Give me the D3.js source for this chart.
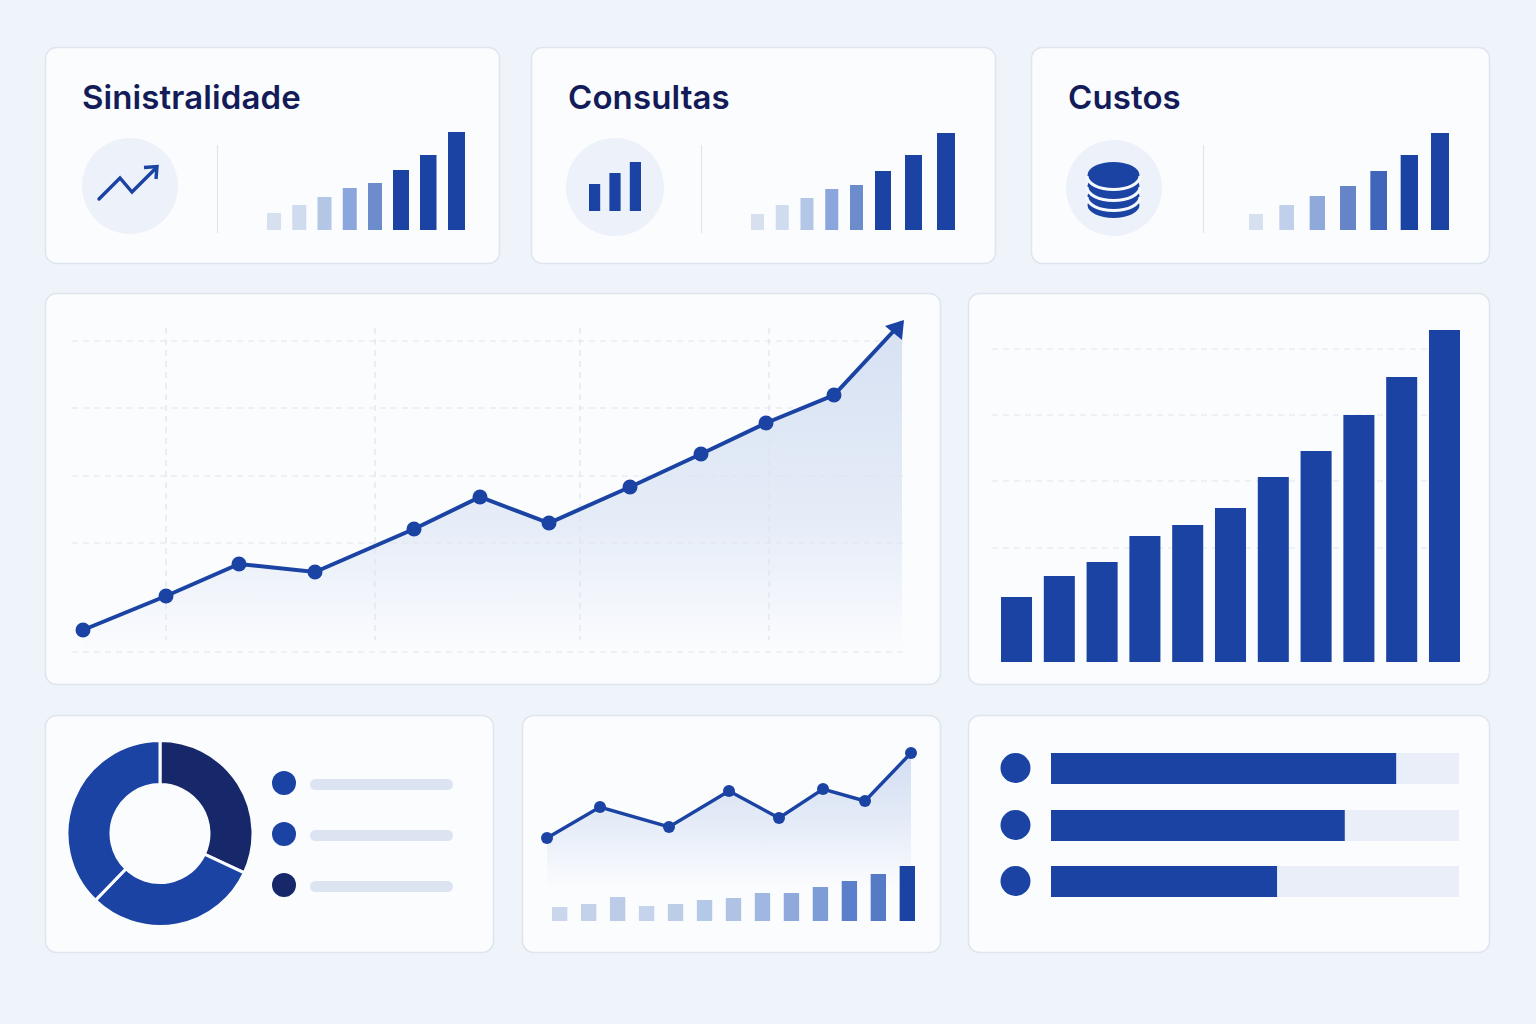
<!DOCTYPE html>
<html><head><meta charset="utf-8">
<script src="https://cdn.jsdelivr.net/npm/d3@7"></script>
<style>html,body{margin:0;padding:0;background:#eff3fa}svg{display:block}</style>
</head><body><svg id="c" width="1536" height="1024"></svg>
<script>
// ---- data ----
const kpiTitles = ["Sinistralidade", "Consultas", "Custos"];
const kpiBars1 = [17, 25, 33, 42, 47, 60, 75, 98];
const kpiBars2 = [16, 25, 32, 41, 45, 59, 75, 97];
const kpiBars3 = [16, 25, 34, 44, 59, 75, 97];
const iconBars = [27, 38, 49];
const lineX = [0, 83, 156, 232, 331, 397, 466, 547, 618, 683, 751, 819];
const lineY = [22, 56, 88, 80, 123, 155, 129, 165, 198, 229, 257, 330];
const columnValues = [65, 86, 100, 126, 137, 154, 185, 211, 247, 285, 332];
const donutValues = [115, 109, 136];
const miniX = [0, 53, 122, 182, 232, 276, 318, 364];
const miniY = [52, 83, 63, 99, 72, 101, 89, 137];
const miniBars = [14, 17, 24, 15, 17, 21, 23, 28, 28, 34, 40, 47, 55];
const progressValues = [84.6, 72, 55.4];

// ---- style ----
const BLUE = "#1a43a3", NAVY = "#16286a", INK = "#131c58";
const fadeColors8 = ["#d6e0ef", "#cfdbef", "#b3c6e6", "#8ba6dc", "#6c8ccc", BLUE, BLUE, BLUE];
const fadeColors7 = ["#d6e0ef", "#c0d0ea", "#8fa9db", "#6585c8", "#3f66ba", BLUE, BLUE];
const miniColors = ["#c9d6ec","#c3d1eb","#bccbe7","#c5d3ec","#bccde8","#b4c8e8","#b0c3e4","#a0b7e1","#8fa9dc","#7e9cd6","#5a7fcb","#557bc7",BLUE];

const svg = d3.select("#c");
const defs = svg.append("defs");
function grad(id, y1, y2, stops){
  const g = defs.append("linearGradient").attr("id",id).attr("gradientUnits","userSpaceOnUse")
    .attr("x1",0).attr("x2",0).attr("y1",y1).attr("y2",y2);
  stops.forEach(s=>g.append("stop").attr("offset",s[0]).attr("stop-color",s[1]));
}
grad("areaMain",340,652,[[0,"#d8e2f3"],[.6,"#e6edf8"],[1,"#fbfcfe"]]);
grad("areaMini",753,888,[[0,"#d3ddf2"],[.55,"#e6edf8"],[1,"#fbfcfe"]]);

// ---- cards ----
const cards = [[45,47,455,217],[531,47,465,217],[1031,47,459,217],
  [45,293,896,392],[968,293,522,392],[45,715,449,238],[522,715,419,238],[968,715,522,238]];
svg.append("g").selectAll("rect").data(cards).join("rect")
  .attr("x",d=>d[0]+.5).attr("y",d=>d[1]+.5).attr("width",d=>d[2]-1).attr("height",d=>d[3]-1)
  .attr("rx",11).attr("fill","#fbfcfe").attr("stroke","#dfe5ef").attr("stroke-width",1.5);

// ---- KPI cards ----
const titleX = [82,568,1068];
svg.append("g").selectAll("text").data(kpiTitles).join("text")
  .attr("x",(d,i)=>titleX[i]).attr("y",109).text(d=>d)
  .attr("font-family","Inter, 'Noto Sans', sans-serif").attr("font-weight",600)
  .attr("font-size",33).attr("letter-spacing",0.1).attr("fill",INK);

const kpiLayout = [
 {vals:kpiBars1,colors:fadeColors8,knots:[0,4,5,6,7],lefts:[267,368,393,420,448],wKnots:[0,4,5,7],widths:[14,14,16,17],cx:130,cy:186,r:48,div:217},
 {vals:kpiBars2,colors:fadeColors8,knots:[0,4,5,6,7],lefts:[751,850,875,905,937],wKnots:[0,4,5,7],widths:[13,13,16,18],cx:615,cy:187,r:49,div:701},
 {vals:kpiBars3,colors:fadeColors7,knots:[0,6],lefts:[1249,1431],wKnots:[0,6],widths:[14,18],cx:1114,cy:188,r:48,div:1203}];
kpiLayout.forEach(k=>{
  svg.append("circle").attr("cx",k.cx).attr("cy",k.cy).attr("r",k.r).attr("fill","#edf1f9");
  svg.append("line").attr("x1",k.div+.5).attr("x2",k.div+.5).attr("y1",145).attr("y2",233)
    .attr("stroke","#e0e4ec").attr("stroke-width",1.2);
  const x = d3.scaleLinear().domain(k.knots).range(k.lefts);
  const w = d3.scaleLinear().domain(k.wKnots).range(k.widths);
  const y = d3.scaleLinear().domain([0,100]).range([230,130]);
  svg.append("g").selectAll("rect").data(k.vals).join("rect")
    .attr("x",(d,i)=>x(i)).attr("width",(d,i)=>w(i)).attr("y",d=>y(d)).attr("height",d=>230-y(d))
    .attr("fill",(d,i)=>k.colors[i]);
});

// icon 1 : trend arrow
svg.append("path").attr("d",d3.line()([[99,199],[120,178],[132,192],[155,169]]))
  .attr("fill","none").attr("stroke",BLUE).attr("stroke-width",3.4).attr("stroke-linecap","round");
svg.append("path").attr("d",d3.line()([[144,167.5],[157,166.5],[156,179]]))
  .attr("fill","none").attr("stroke",BLUE).attr("stroke-width",3.4);
// icon 2 : bars
const ix = d3.scaleBand().domain(d3.range(3)).range([589,640]).paddingInner(.5);
svg.append("g").selectAll("rect").data(iconBars).join("rect")
  .attr("x",(d,i)=>ix(i)).attr("width",ix.bandwidth()+1).attr("y",d=>211-d).attr("height",d=>d).attr("fill",BLUE);
// icon 3 : database
[205,196,186,175].forEach(cy=>{
  svg.append("ellipse").attr("cx",1113.5).attr("cy",cy).attr("rx",26).attr("ry",13).attr("fill",BLUE);
});
[176,187,197].forEach(sy=>{
  svg.append("path").attr("d",`M1087 ${sy} A26.5 13.5 0 0 0 1140 ${sy}`)
    .attr("fill","none").attr("stroke","#f5f8fd").attr("stroke-width",3);
});

// ---- main line chart ----
const mx = d3.scaleLinear().domain([0,819]).range([83,902]);
const my = d3.scaleLinear().domain([0,332]).range([652,320]);
const dash = {stroke:"#dfe3ec","stroke-width":1.2,"stroke-dasharray":"6 5"};
function ln(g,x1,y1,x2,y2){const l=g.append("line").attr("x1",x1).attr("y1",y1).attr("x2",x2).attr("y2",y2);
  Object.entries(dash).forEach(([k,v])=>l.attr(k,v));}
const gMain = svg.append("g");
const mainPts = lineX.map((x,i)=>[x,lineY[i]]);
gMain.append("path").datum(mainPts)
  .attr("d",d3.area().x(d=>mx(d[0])).y0(652).y1(d=>my(d[1])))
  .attr("fill","url(#areaMain)");
[341,408,476,543,652].forEach(y=>ln(gMain,72,y,905,y));
[166,375,580,769].forEach(x=>ln(gMain,x,328,x,640));
gMain.append("path").datum(mainPts)
  .attr("d",d3.line().x(d=>mx(d[0])).y(d=>my(d[1])))
  .attr("fill","none").attr("stroke",BLUE).attr("stroke-width",4);
gMain.append("g").selectAll("circle").data(mainPts.slice(0,-1)).join("circle")
  .attr("cx",d=>mx(d[0])).attr("cy",d=>my(d[1])).attr("r",7.5).attr("fill",BLUE);
const tip = mainPts[mainPts.length-1];
gMain.append("path").attr("transform",`translate(${mx(tip[0])},${my(tip[1])})`)
  .attr("d","M2 -2 L-17 4 L0 18 Z").attr("fill",BLUE);

// ---- column chart ----
const gCol = svg.append("g");
[349,415,481,548].forEach(y=>ln(gCol,992,y,1432,y));
const cx = d3.scaleBand().domain(d3.range(columnValues.length)).range([1001,1460]).paddingInner(.275).paddingOuter(0);
const cy = d3.scaleLinear().domain([0,332]).range([662,330]);
gCol.append("g").selectAll("rect").data(columnValues).join("rect")
  .attr("x",(d,i)=>cx(i)).attr("width",cx.bandwidth()).attr("y",d=>cy(d)).attr("height",d=>662-cy(d)).attr("fill",BLUE);

// ---- donut ----
const pie = d3.pie().sort(null)(donutValues);
const arc = d3.arc().innerRadius(49).outerRadius(93);
const donutColors = [NAVY,BLUE,BLUE];
svg.append("g").attr("transform","translate(160,833.5)").selectAll("path").data(pie).join("path")
  .attr("d",arc).attr("fill",(d,i)=>donutColors[i]).attr("stroke","#fbfcfe").attr("stroke-width",3);
const legendY = [783,834,885], legendC = [BLUE,BLUE,NAVY];
svg.append("g").selectAll("circle").data(legendY).join("circle")
  .attr("cx",284).attr("cy",d=>d).attr("r",12).attr("fill",(d,i)=>legendC[i]);
svg.append("g").selectAll("rect").data(legendY).join("rect")
  .attr("x",310).attr("width",143).attr("y",d=>d-4).attr("height",11).attr("rx",5.5).attr("fill","#dce4f1");

// ---- mini combo ----
const nx = d3.scaleLinear().domain([0,364]).range([547,911]);
const ny = d3.scaleLinear().domain([0,137]).range([890,753]);
const miniPts = miniX.map((x,i)=>[x,miniY[i]]);
svg.append("path").datum(miniPts).attr("d",d3.area().x(d=>nx(d[0])).y0(890).y1(d=>ny(d[1]))).attr("fill","url(#areaMini)");
const bx = d3.scaleBand().domain(d3.range(miniBars.length)).range([552,915]).paddingInner(.47).paddingOuter(0);
const by = d3.scaleLinear().domain([0,55]).range([921,866]);
svg.append("g").selectAll("rect").data(miniBars).join("rect")
  .attr("x",(d,i)=>bx(i)).attr("width",bx.bandwidth()).attr("y",d=>by(d)).attr("height",d=>921-by(d)).attr("fill",(d,i)=>miniColors[i]);
svg.append("path").datum(miniPts).attr("d",d3.line().x(d=>nx(d[0])).y(d=>ny(d[1])))
  .attr("fill","none").attr("stroke",BLUE).attr("stroke-width",3.4);
svg.append("g").selectAll("circle").data(miniPts).join("circle")
  .attr("cx",d=>nx(d[0])).attr("cy",d=>ny(d[1])).attr("r",6).attr("fill",BLUE);

// ---- progress bars ----
const px = d3.scaleLinear().domain([0,100]).range([1051,1459]);
const rowY = [753,810,866];
svg.append("g").selectAll("rect").data(rowY).join("rect")
  .attr("x",px(0)).attr("width",px(100)-px(0)).attr("y",d=>d).attr("height",31).attr("fill","#e9eef8");
svg.append("g").selectAll("rect").data(progressValues).join("rect")
  .attr("x",px(0)).attr("width",d=>px(d)-px(0)).attr("y",(d,i)=>rowY[i]).attr("height",31).attr("fill",BLUE);
svg.append("g").selectAll("circle").data(rowY).join("circle")
  .attr("cx",1015.5).attr("cy",d=>d+15).attr("r",15).attr("fill",BLUE);
</script></body></html>
